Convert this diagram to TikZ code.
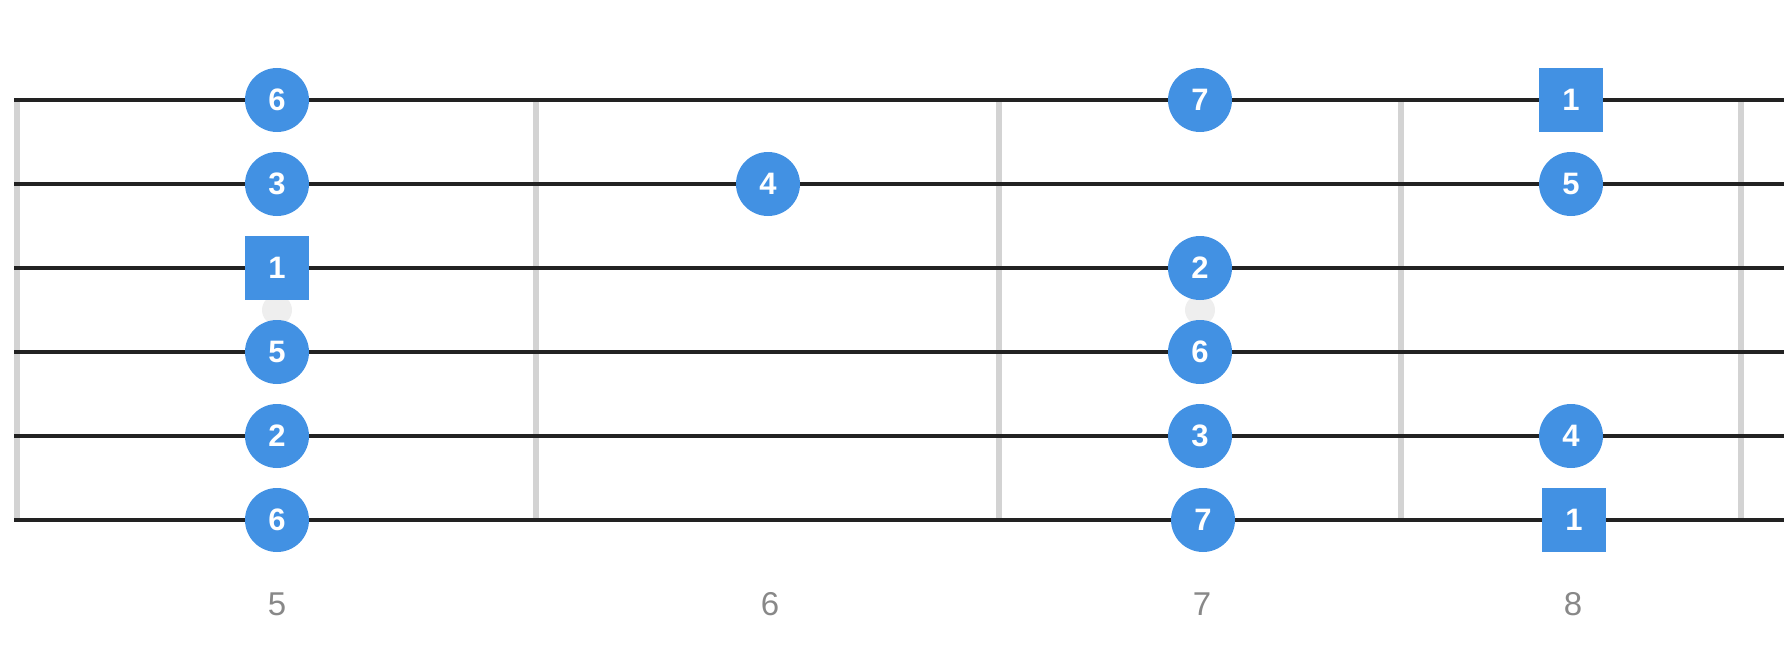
\documentclass[tikz,border=0pt]{standalone}
\usepackage{fontspec}
\setmainfont{Liberation Sans}
\usepackage{xcolor}
\usepackage{tikz}
\definecolor{fbblue}  {HTML}{4291E3}
\definecolor{fbstring}{HTML}{222222}
\definecolor{fbfret}  {HTML}{D3D3D3}
\definecolor{fbdot}   {HTML}{EEEEEE}
\definecolor{fbnum}   {HTML}{888888}

\begin{document}
\begin{tikzpicture}[
  x=1pt, y=-1pt,
  every node/.style={inner sep=0pt, outer sep=0pt},
  note/.style={circle, minimum size=64pt, fill=fbblue, text=white,
               font=\fontsize{31}{31}\selectfont\bfseries},
  root/.style={note, rectangle},
  fretnum/.style={text=fbnum, font=\fontsize{33}{33}\selectfont},
  string/.style={draw=fbstring, line width=4pt},
  fretwire/.style={draw=fbfret, line width=6pt},
]
\useasboundingbox (0,0) rectangle (1784,658);

% frets and inlays
\foreach \x in {17,536,999,1401,1741}
  \draw[fretwire] (\x,100) -- (\x,520);
\fill[fbdot] (277,310) circle (15);
\fill[fbdot] (1200,310) circle (15);

% strings
\foreach \y in {100,184,268,352,436,520}
  \draw[string] (14,\y) -- (1784,\y);

% fret 5
\node[note](n5a) at (277,100) {6};
\node[note](n5b) at (277,184) {3};
\node[root](n5c) at (277,268) {1};
\node[note](n5d) at (277,352) {5};
\node[note](n5e) at (277,436) {2};
\node[note](n5f) at (277,520) {6};
% fret 6
\node[note](n6b) at (768,184) {4};
% fret 7
\node[note](n7a) at (1200,100) {7};
\node[note](n7c) at (1200,268) {2};
\node[note](n7d) at (1200,352) {6};
\node[note](n7e) at (1200,436) {3};
\node[note](n7f) at (1203,520) {7};
% fret 8
\node[root](n8a) at (1571,100) {1};
\node[note](n8b) at (1571,184) {5};
\node[note](n8e) at (1571,436) {4};
\node[root](n8f) at (1574,520) {1};

% fret numbers
\node[fretnum](l5) at (277,604)  {5};
\node[fretnum](l6) at (770,604)  {6};
\node[fretnum](l7) at (1202,604) {7};
\node[fretnum](l8) at (1573,604) {8};
\end{tikzpicture}
\end{document}
